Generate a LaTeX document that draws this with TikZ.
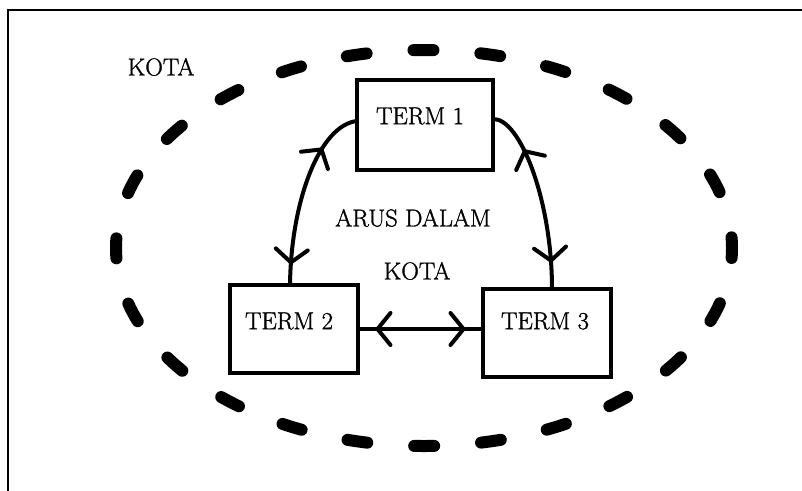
\documentclass[tikz,border=0pt]{standalone}
\usepackage{fontspec}
\newfontfamily\scanfont{Latin Modern Roman}[FakeBold=1.3]
\usetikzlibrary{arrows.meta,decorations.markings}
\begin{document}
\begin{tikzpicture}[x=1pt,y=-1pt,
  termbox/.style={draw,line width=4.5pt,inner sep=0pt,outer sep=0pt},
  lbl/.style={inner sep=0pt,font=\scanfont\fontsize{24.5}{28}\selectfont},
  conn/.style={line width=4pt},
  barb/.tip={Straight Barb[length=13pt,width=32pt,round]},
  twomarks/.style 2 args={decoration={markings,
      mark=at position #1 with {\arrowreversed{barb}},
      mark=at position #2 with {\arrow{barb}}},postaction=decorate},
  dashring/.style={line width=12pt,line cap=round,dash pattern=on 20pt off 47pt,dash phase=10pt}]
\useasboundingbox (0,0) rectangle (802,490);
\fill[white] (0,0) rectangle (802,490);
% frame
\draw[line width=2.5pt] (8,492) -- (8,10) -- (804,10);
% city boundary
\draw[dashring] (424,248) ellipse [x radius=308, y radius=198];
% terminals
\node[termbox,minimum width=136pt,minimum height=90pt] (t1) at (425,125) {};
\node[termbox,minimum width=128pt,minimum height=88pt] (t2) at (294,329) {};
\node[termbox,minimum width=128pt,minimum height=88pt] (t3) at (547,333) {};
% labels
\node[lbl] (l1) at (420,116) {TERM 1};
\node[lbl] (l2) at (289,321) {TERM 2};
\node[lbl] (l3) at (545,321) {TERM 3};
\node[lbl] (kota) at (161,67) {KOTA};
\node[lbl] (arus) at (413,218) {ARUS DALAM};
\node[lbl] (kota2) at (417,271) {KOTA};
% connectors
\draw[conn,twomarks={0.24}{0.89}] ([yshift=4pt]t1.west) .. controls (320,125) and (291,200) .. ([xshift=-4pt]t2.north);
\draw[conn,twomarks={0.24}{0.86}] ([yshift=6pt]t1.east) .. controls (520,118) and (552,200) .. ([xshift=5pt]t3.north);
\draw[conn,twomarks={0.14}{0.86}] (t2.east) -- (t2.east -| t3.west);
\end{tikzpicture}
\end{document}
